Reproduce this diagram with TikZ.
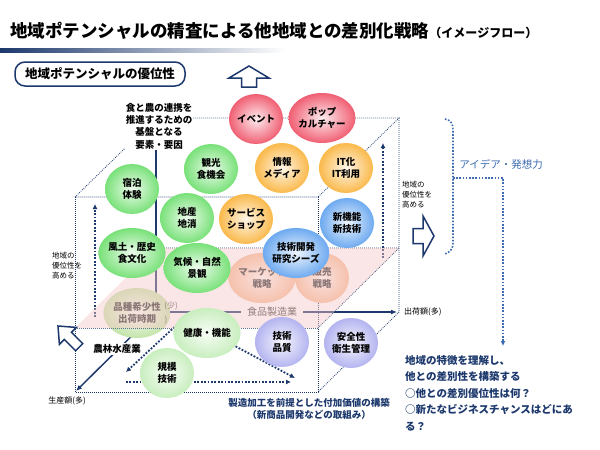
\documentclass[tikz,border=0pt]{standalone}
\usepackage{fontspec}
\setmainfont{Noto Sans CJK JP}
\usetikzlibrary{shapes.geometric,arrows.meta,positioning,calc}

\definecolor{navy}{RGB}{28,56,108}
\definecolor{steel}{RGB}{62,108,178}
\definecolor{ballred}{RGB}{240,95,115}
\definecolor{ballgreen}{RGB}{120,225,120}
\definecolor{ballorange}{RGB}{250,185,75}
\definecolor{ballblue}{RGB}{110,170,240}
\definecolor{balllav}{RGB}{180,180,240}
\definecolor{ballpale}{RGB}{200,238,190}
\definecolor{fadeorange}{RGB}{245,188,150}
\definecolor{fadegreen}{RGB}{196,228,170}
\definecolor{planepink}{RGB}{246,200,200}

\begin{document}
\begin{tikzpicture}[
x=1pt, y=-1pt,
ball/.style={
    ellipse,
    minimum width=54pt,
    minimum height=50pt,
    inner sep=0pt,
    align=center,
    inner color=#1!12,
    outer color=#1,
    font=\bfseries\fontsize{9.5}{12}\selectfont
},
faded/.style={
    ball=#1,
    text=black!80
},
edge/.style={
    navy,
    line width=0.8pt,
    dash pattern=on 0.8pt off 1.2pt
},
axis/.style={
    navy,
    line width=1.5pt
},
dotarrow/.style={
    navy,
    line width=1.8pt,
    dash pattern=on 1.8pt off 1.6pt,
    -{Latex[length=5pt,width=5pt]}
},
bracket/.style={
    steel,
    line width=1.6pt,
    dash pattern=on 1.6pt off 1.6pt
},
hollow/.style={
    draw=navy,
    fill=white,
    line width=1.5pt,
    line join=miter
},
note/.style={
    align=left,
    inner sep=0pt,
    font=\fontsize{7.5}{10}\selectfont
},
axislabel/.style={
    inner sep=1pt,
    font=\fontsize{8}{10}\selectfont
}
]

\fill[white] (0,0) rectangle (600,450);

% title and header bar
\node[anchor=west, inner sep=0pt] (title) at (10,31)
{\bfseries\fontsize{17.5}{20}\selectfont 地域ポテンシャルの精査による他地域との差別化戦略{\fontsize{12}{14}\selectfont （イメージフロー）}};
\shade[left color=navy, right color=white] (0,48) rectangle (285,52);

\node[draw=navy, line width=1.5pt, rounded corners=10pt, minimum width=170pt, minimum height=24pt,
  font=\bfseries\fontsize{12.5}{14}\selectfont] (tag) at (100,74) {地域ポテンシャルの優位性};

% upward hollow arrow
\draw[hollow] (249,66) -- ++(-20,12) -- ++(12.5,0) -- ++(0,9) -- ++(15,0) -- ++(0,-9) -- ++(12.5,0) -- cycle;

% cube
\coordinate (ftl) at (75,197);
\coordinate (ftr) at (318,197);
\coordinate (fbl) at (75,392);
\coordinate (fbr) at (318,392);
\coordinate (btl) at (156,118);
\coordinate (btr) at (399,118);
\coordinate (bbr) at (399,312);
\coordinate (o) at (156,312);

\draw[edge] (ftl) -- (btl) -- (btr) -- (ftr) -- cycle;
\draw[edge] (ftl) -- (fbl) -- (fbr) -- (ftr);
\draw[edge] (btr) -- (bbr) -- (fbr);

\node[fill=white, inner sep=1pt, align=center, font=\bfseries\fontsize{9.5}{12.3}\selectfont] (basis)
at (159,126) {食と農の連携を\\推進するための\\基盤となる\\要素・要因};

% axes
\draw[axis] (basis.south -| o) -- (o);
\draw[axis, -{Latex[length=6pt,width=5pt]}] (o) -- (397,312);
\draw[axis, -{Latex[length=6pt,width=5pt]}] (o) -- (76,391);

% dotted arrows
\coordinate (lup0) at (95,317);
\coordinate (lup1) at (95,204);
\coordinate (rup0) at (383,258);
\coordinate (rup1) at (383,143);
\draw[dotarrow] (lup0) -- (lup1);
\draw[dotarrow] (rup0) -- (rup1);

\coordinate (frontl) at (126,372);
\coordinate (frontr) at (295,378);
\coordinate (base0) at (126,382);
\coordinate (base1) at (291,382);
\coordinate (kl) at (182,320);
\draw[dotarrow] (base0) -- (base1);
\draw[dotarrow] (kl) -- (frontl);

% circles below the plane
\node[faded=fadegreen] (hinshu) at (137,313) {品種希少性\\出荷時期};
\node[faded=fadeorange] (market) at (262,278) {マーケット\\戦略};
\node[faded=fadeorange] (hanbai) at (322,278) {販売\\戦略};
\node[axislabel, text=black!70] (few1) at (171,306) {(少)};
\node[axislabel, text=black!70] (few2) at (166,320) {)};
\node[fill=white, inner xsep=6pt, inner ysep=1pt, text=black!75, font=\fontsize{10}{12}\selectfont] (food)
at (272,312) {食品製造業};

% the plane
\coordinate (pfl) at (75,328);
\coordinate (pfr) at (318,328);
\coordinate (pbr) at (399,248);
\coordinate (pbl) at (156,248);
\draw[edge] (pbl) -- (pbr) -- (pfr);
\fill[planepink, opacity=0.45] (pfl) -- (pfr) -- (pbr) -- (pbl) -- cycle;
\draw[edge, navy!70] (pfl) -- (pfr);

% circles above the plane
\node[ball=ballred] (event) at (256,119) {イベント};
\node[ball=ballred] (pop) at (322,118) {ポップ\\カルチャー};
\node[ball=ballgreen] (kanko) at (211,169) {観光\\食機会};
\node[ball=ballorange] (joho) at (282,168) {情報\\メディア};
\node[ball=ballorange] (itka) at (346,168) {IT化\\IT利用};
\node[ball=ballgreen] (shuku) at (132,189) {宿泊\\体験};
\node[ball=ballgreen] (chisan) at (187,218) {地産\\地消};
\node[ball=ballorange] (service) at (246,219) {サービス\\ショップ};
\node[ball=ballblue] (shinki) at (347,223) {新機能\\新技術};
\node[ball=ballblue] (kaihatsu) at (296,253) {技術開発\\研究シーズ};
\node[ball=ballgreen] (fudo) at (132,253) {風土・歴史\\食文化};
\node[ball=ballgreen] (kiko) at (197,268) {気候・自然\\景観};

\node[ball=ballpale] (kenko) at (207,333) {健康・機能};
\draw[dotarrow] (kenko.-25) -- (frontr);
\node[ball=ballpale] (kibo) at (167,373) {規模\\技術};
\node[ball=balllav] (gijutsu) at (282,342) {技術\\品質};
\node[ball=balllav] (anzen) at (351,343) {安全性\\衛生管理};

% axis labels
\node[fill=white, inner sep=1pt, font=\bfseries\fontsize{9.5}{12}\selectfont] (norin) at (117,349) {農林水産業};
\node[axislabel] (prod) at (67,401) {生産額(多)};
\node[axislabel, anchor=west] (ship) at (403,312) {出荷額(多)};
\node[note, anchor=north west] (lnote) at (52,252) {地域の\\優位性を\\高める};
\node[note, anchor=north west] (rnote) at (402,181) {地域の\\優位性を\\高める};

% side hollow arrows
\draw[hollow] (434,236) -- ++(-11,-20) -- ++(0,12.5) -- ++(-10,0) -- ++(0,15) -- ++(10,0) -- ++(0,12.5) -- cycle;
\begin{scope}[shift={(58,326)}, rotate=135]
\draw[hollow] (0,0) -- (-14,-12) -- (-14,-5) -- (-30,-5) -- (-30,5) -- (-14,5) -- (-14,12) -- cycle;
\end{scope}

% idea bracket
\draw[bracket] (445,119) .. controls (451,120) and (453,124) .. (453,130) -- (453,243) .. controls (453,249) and (450,252) .. (445,254);
\coordinate (branch) at (453,178);
\coordinate (goal) at (503,346);
\draw[bracket, -{Latex[length=5pt,width=5pt]}] (branch) -| (goal);
\node[text=steel, font=\fontsize{10.5}{12}\selectfont] (idea) at (501,164) {アイデア・発想力};

\node[anchor=west, align=left, inner sep=0pt, text=navy, font=\bfseries\fontsize{10.5}{16.5}\selectfont] (result)
at (405,393) {地域の特徴を理解し、\\他との差別性を構築する\\○他との差別優位性は何？\\○新たなビジネスチャンスはどにあ\\る？};

\node[align=center, inner sep=0pt, text=navy, font=\bfseries\fontsize{9.5}{12.5}\selectfont] (value)
at (309,409) {製造加工を前提とした付加価値の構築\\（新商品開発などの取組み）};

\end{tikzpicture}
\end{document}
